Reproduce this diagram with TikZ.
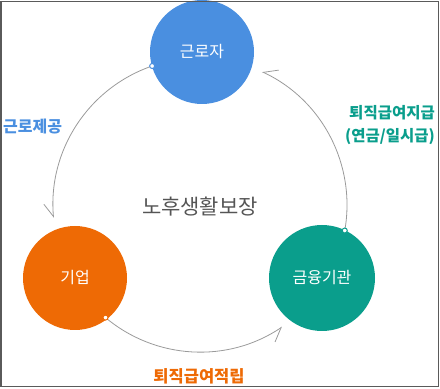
\documentclass[tikz,border=0pt]{standalone}
\usepackage{fontspec}
\setmainfont{Noto Sans CJK KR}
\usetikzlibrary{arrows.meta, calc}
\definecolor{wkblue}{HTML}{4A8FE0}
\definecolor{wkorange}{HTML}{EE6A05}
\definecolor{wkteal}{HTML}{0A9E8C}
\definecolor{arcgray}{HTML}{9A9A9A}
\definecolor{midgray}{HTML}{555555}
\definecolor{framegray}{HTML}{5A5A5A}

\begin{document}
\begin{tikzpicture}[x=1pt, y=1pt, >={Straight Barb[right, length=13pt, width=17pt]}]
\useasboundingbox (0,0) rectangle (440,389);

% ============================================================
% Circle of flow around the centre, radius 147
% ============================================================
\coordinate (c) at (200,184);
\node[font=\fontsize{21}{24}\selectfont, text=midgray] (title) at (200,182) {노후생활보장};

% Parties
\fill[wkblue] (202,337) circle (52);
\node[font=\fontsize{16}{19}\selectfont, text=white] (worker) at (202,337) {근로자};
\fill[wkorange] (75,111) circle (52);
\node[font=\fontsize{16}{19}\selectfont, text=white] (firm) at (75,111) {기업};
\fill[wkteal] (322,111) circle (53);
\node[font=\fontsize{16}{19}\selectfont, text=white] (bank) at (322,111) {금융기관};

% Flow arcs (counterclockwise, dot at start, half barb at end)
\draw[arcgray, line width=0.8pt, ->] ($(c)+(109:147)$) arc[start angle=109, end angle=185, radius=147];
\draw[arcgray, line width=0.8pt, ->] ($(c)+(-10:147)$) arc[start angle=-10, end angle=65, radius=147];
\draw[arcgray, line width=0.8pt, ->] ($(c)+(230:147)$) arc[start angle=230, end angle=304, radius=147];

% Start dots
\filldraw[fill=white, draw=wkblue, line width=1pt] ($(c)+(109:147)$) circle (2.5);
\filldraw[fill=white, draw=wkteal, line width=1pt] ($(c)+(-10:147)$) circle (2.5);
\filldraw[fill=white, draw=wkorange, line width=1pt] ($(c)+(230:147)$) circle (2.5);

% Labels
\node[font=\fontsize{16}{19}\selectfont\bfseries, text=wkblue, anchor=west, inner sep=0pt] (work) at (3,262) {근로제공};
\node[font=\fontsize{15.5}{18}\selectfont\bfseries, text=wkteal, anchor=east, inner sep=0pt] (pay) at (435,276) {퇴직급여지급};
\node[font=\fontsize{15.5}{18}\selectfont\bfseries, text=wkteal, anchor=east, inner sep=0pt] (form) at (435,252) {(연금/일시급)};
\node[font=\fontsize{16.5}{19}\selectfont\bfseries, text=wkorange] (save) at (199,13) {퇴직급여적립};

% Frame
\draw[framegray, line width=1.5pt] (1.2,2.3) rectangle (438.7,387.4);

\end{tikzpicture}
\end{document}
